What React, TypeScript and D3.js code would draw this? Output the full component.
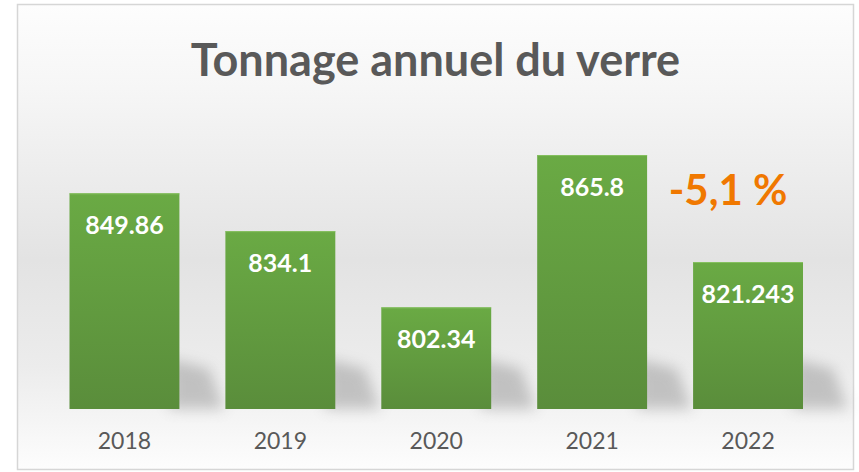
import React from "react";
import { scaleBand, scaleLinear } from "d3";

// chart data
const years = ["2018", "2019", "2020", "2021", "2022"];
const tonnage = [849.86, 834.1, 802.34, 865.8, 821.243];
const labels = ["849.86", "834.1", "802.34", "865.8", "821.243"];
const title = "Tonnage annuel du verre";
const evolution = "-5,1 %";

const width = 859;
const height = 472;

function App() {
  // scales (axis min/max as the spreadsheet picked them)
  const xScale = scaleBand<string>()
    .domain(years)
    .range([46.5, 826])
    .paddingInner(0.295)
    .paddingOuter(0.1475);

  const yScale = scaleLinear().domain([760, 880]).range([409, 121]);

  const bw = xScale.bandwidth();
  const base = yScale(760);

  return (
    <svg
      width={width}
      height={height}
      style={{ position: "absolute", left: 0, top: 0 }}
      fontFamily="Lato, 'Noto Sans', sans-serif"
    >
      <defs>
        <linearGradient id="bg" x1="0" y1="0" x2="0" y2="1">
          <stop offset="0%" stopColor="#fdfdfd" />
          <stop offset="18%" stopColor="#f6f6f6" />
          <stop offset="55%" stopColor="#e3e3e3" />
          <stop offset="78%" stopColor="#ececec" />
          <stop offset="100%" stopColor="#fdfdfd" />
        </linearGradient>
        <linearGradient id="bar" x1="0" y1="0" x2="0" y2="1">
          <stop offset="0%" stopColor="#6aaa44" />
          <stop offset="100%" stopColor="#5a8d3b" />
        </linearGradient>
        <filter id="blur" x="-50%" y="-50%" width="200%" height="200%">
          <feGaussianBlur stdDeviation="7" />
        </filter>
      </defs>

      <rect x={0} y={0} width={width} height={height} fill="#ffffff" />
      <rect
        x={17.5}
        y={4.5}
        width={836}
        height={465}
        fill="url(#bg)"
        stroke="#d6d6d6"
        strokeWidth={1.5}
      />

      <text
        x={435.5}
        y={76}
        textAnchor="middle"
        fontSize={45}
        fontWeight="bold"
        fill="#595959"
      >
        {title}
      </text>

      {/* soft shadows behind the bars */}
      <g filter="url(#blur)" opacity={0.45}>
        {years.map((yr) => {
          const x1 = (xScale(yr) ?? 0) + bw;
          return (
            <polygon
              key={"s" + yr}
              points={`${x1 - 10},${base - 50} ${x1 + 30},${base - 40} ${x1 + 45},${base} ${x1 - 10},${base}`}
              fill="#8a8a8a"
            />
          );
        })}
      </g>

      {years.map((yr, i) => {
        const x = xScale(yr) ?? 0;
        const y = yScale(tonnage[i]);
        return (
          <g key={yr}>
            <rect x={x} y={y} width={bw} height={base - y} fill="url(#bar)" />
            <line
              x1={x}
              x2={x + bw}
              y1={y + 0.5}
              y2={y + 0.5}
              stroke="#86c060"
              strokeWidth={1}
            />
            <text
              x={x + bw / 2}
              y={y + 41}
              textAnchor="middle"
              fontSize={25}
              fontWeight="bold"
              fill="#ffffff"
            >
              {labels[i]}
            </text>
            <text
              x={x + bw / 2}
              y={449}
              textAnchor="middle"
              fontSize={23}
              fill="#595959"
            >
              {yr}
            </text>
          </g>
        );
      })}

      <text
        x={(xScale("2022") ?? 0) + bw / 2 - 20}
        y={205}
        textAnchor="middle"
        fontSize={42}
        fontWeight="bold"
        fill="#f07800"
      >
        {evolution}
      </text>
    </svg>
  );
}

export default App;
